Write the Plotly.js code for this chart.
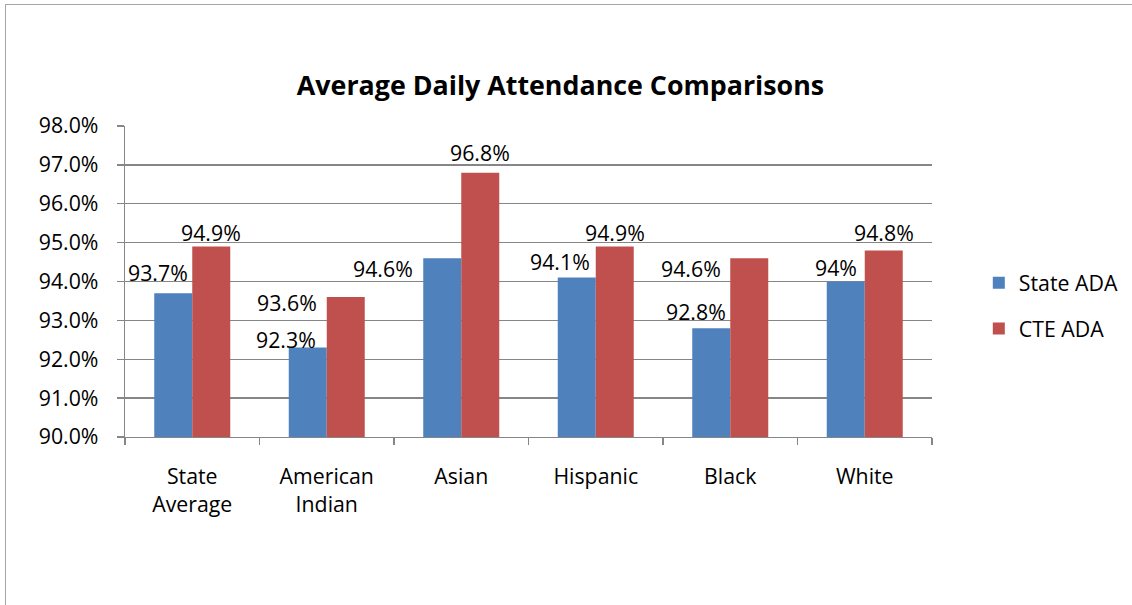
<!DOCTYPE html>
<html>
<head>
<meta charset="utf-8">
<script src="https://cdn.plot.ly/plotly-3.0.1.min.js"></script>
<style>
  html, body { margin: 0; padding: 0; background: #ffffff; overflow: hidden; }
  #wrap { position: relative; width: 1132px; height: 605px; }
  #chart { position: absolute; left: 0; top: 0; width: 1132px; height: 605px; }
  #frame { position: absolute; left: 5px; top: 4px; width: 1200px; height: 700px;
           border-left: 1px solid #A6A6A6; border-top: 1px solid #A6A6A6; pointer-events: none; }
</style>
</head>
<body>
<div id="wrap">
  <div id="chart"></div>
  <div id="frame"></div>
</div>
<script>
// ---- data ----
const categories = ['State Average', 'American Indian', 'Asian', 'Hispanic', 'Black', 'White'];
const categoryTickText = ['State<br>Average', 'American<br>Indian', 'Asian', 'Hispanic', 'Black', 'White'];
const stateADA = [93.7, 92.3, 94.6, 94.1, 92.8, 94.0];
const cteADA = [94.9, 93.6, 96.8, 94.9, 94.6, 94.8];
const seriesNames = ['State ADA', 'CTE ADA'];
const yTickValues = [90, 91, 92, 93, 94, 95, 96, 97, 98];
const chartTitle = 'Average Daily Attendance Comparisons';

// ---- label placement (pixel offsets from bar top-centre: [dx, dy-down]) ----
const stateLabelShift = [[-15, -21], [-22, -8], [-59, 10], [-17, -16], [-15, -17], [-10, -14]];
const cteLabelShift = [[0, -14], [-59, 5], [0, -20], [0, -14], [-58, 10], [0, -18]];

// ---- style ----
const FONT = 'Open Sans, Lato, sans-serif';
const FS = 21.3;
const BLUE = '#4F81BD';
const RED = '#C0504D';
const GRID = '#868686';
const BAR_HALF = 19; // half bar width in px

const fmtLabel = v => String(v) + '%';

const traces = [
  {
    type: 'bar', name: seriesNames[0], x: categories, y: stateADA,
    marker: { color: BLUE, line: { width: 0 } },
    hoverinfo: 'skip', legendgroup: 'a'
  },
  {
    type: 'bar', name: seriesNames[1], x: categories, y: cteADA,
    marker: { color: RED, line: { width: 0 } },
    hoverinfo: 'skip', legendgroup: 'b'
  }
];

const annotations = [];
categories.forEach((c, i) => {
  annotations.push({
    x: c, y: stateADA[i], xref: 'x', yref: 'y', text: fmtLabel(stateADA[i]),
    showarrow: false, xanchor: 'center', yanchor: 'middle',
    xshift: -BAR_HALF + stateLabelShift[i][0], yshift: -stateLabelShift[i][1],
    font: { family: FONT, size: FS, color: '#000000' }
  });
  annotations.push({
    x: c, y: cteADA[i], xref: 'x', yref: 'y', text: fmtLabel(cteADA[i]),
    showarrow: false, xanchor: 'center', yanchor: 'middle',
    xshift: BAR_HALF + cteLabelShift[i][0], yshift: -cteLabelShift[i][1],
    font: { family: FONT, size: FS, color: '#000000' }
  });
});

const layout = {
  width: 1132, height: 605,
  margin: { l: 125, r: 200, t: 126, b: 168, autoexpand: false },
  paper_bgcolor: 'rgba(0,0,0,0)', plot_bgcolor: 'rgba(0,0,0,0)',
  font: { family: FONT, size: FS, color: '#000000' },
  title: {
    text: chartTitle, xref: 'container', yref: 'container',
    x: 560.5 / 1132, xanchor: 'center', y: 1 - 86 / 605, yanchor: 'middle',
    font: { family: FONT, size: 26.8, color: '#000000', weight: 700 }
  },
  barmode: 'group', bargap: 0.435, bargroupgap: 0,
  xaxis: {
    type: 'category', tickvals: categories, ticktext: categoryTickText,
    showline: true, linecolor: GRID, linewidth: 1.3,
    ticks: 'outside', tickson: 'boundaries', ticklen: 7, tickcolor: GRID, tickwidth: 1.3,
    showgrid: false, ticklabelstandoff: 20,
    tickfont: { family: FONT, size: FS, color: '#000000' }, fixedrange: true
  },
  yaxis: {
    range: [90, 98], tickvals: yTickValues,
    ticktext: yTickValues.map(v => v.toFixed(1) + '%'),
    showline: true, linecolor: GRID, linewidth: 1.3,
    ticks: 'outside', ticklen: 7, tickcolor: GRID, tickwidth: 1.3,
    showgrid: true, gridcolor: GRID, gridwidth: 1.3, zeroline: false,
    ticklabelstandoff: 14,
    tickfont: { family: FONT, size: FS, color: '#000000' }, fixedrange: true
  },
  legend: {
    x: 1.058, xanchor: 'left', y: (437 - 306) / 311, yanchor: 'middle',
    traceorder: 'grouped', tracegroupgap: 15,
    font: { family: FONT, size: FS, color: '#000000' },
    bgcolor: 'rgba(0,0,0,0)', borderwidth: 0
  },
  annotations: annotations,
  showlegend: true
};

Plotly.newPlot('chart', traces, layout, { staticPlot: true, displayModeBar: false });
</script>
</body>
</html>
